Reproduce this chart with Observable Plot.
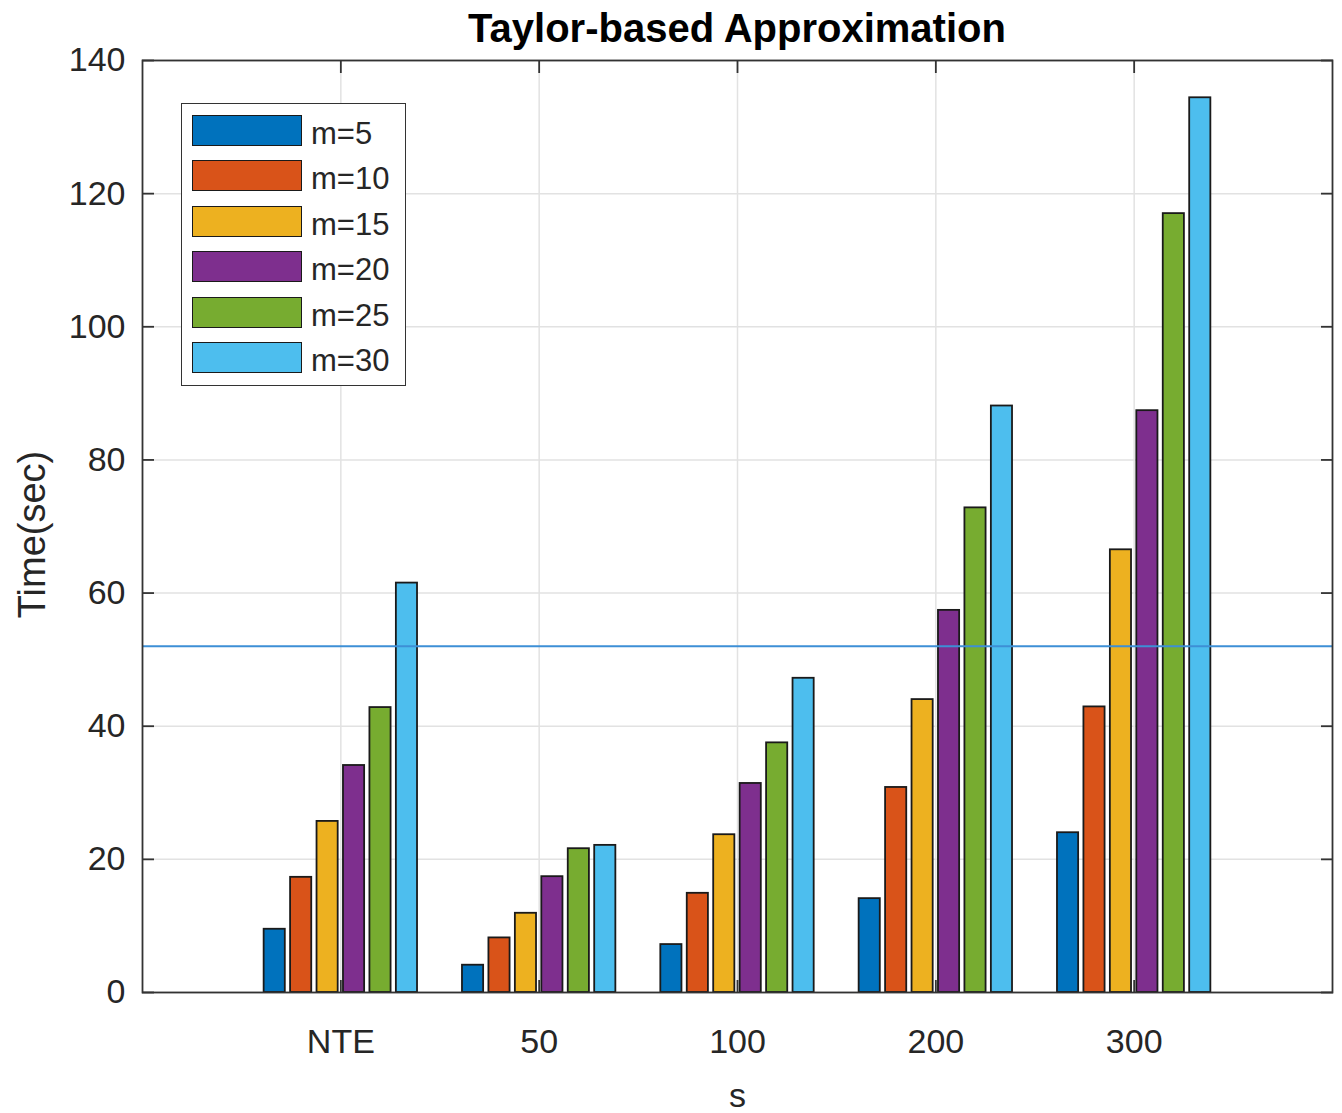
<!DOCTYPE html>
<html>
<head>
<meta charset="utf-8">
<script src="https://cdn.jsdelivr.net/npm/d3@7"></script>
<script src="https://cdn.jsdelivr.net/npm/@observablehq/plot@0.6"></script>
<style>
  body { margin: 0; background: #fff; font-family: "Liberation Sans", Arial, Helvetica, sans-serif; }
  #wrap { position: relative; width: 1342px; height: 1113px; background: #fff; }
  #title { position: absolute; left: 142px; width: 1190px; top: 8px; text-align: center; font-weight: bold; font-size: 40px; line-height: 40px; color: #000; white-space: nowrap; }
  #chart { position: absolute; left: 0; top: 0; }
  #legend { position: absolute; left: 181px; top: 103px; width: 223px; height: 281px; border: 1.5px solid #333; background: #fff; }
  .item { position: absolute; left: 10px; height: 32px; width: 210px; }
  .sw { position: absolute; left: 0; top: 0; width: 108px; height: 29px; border: 1.5px solid #1a1a1a; }
  .lab { position: absolute; left: 119px; top: 3px; font-size: 31px; line-height: 32px; color: #262626; white-space: nowrap; }
</style>
</head>
<body>
<div id="wrap">
  <div id="chart"></div>
  <div id="title">Taylor-based Approximation</div>
  <div id="legend"></div>
</div>
<script>
// ---- data ----
const categories = ["NTE", "50", "100", "200", "300"];
const series = ["m=5", "m=10", "m=15", "m=20", "m=25", "m=30"];
const m5  = [9.5, 4.1, 7.2, 14.1, 24.0];
const m10 = [17.3, 8.2, 14.9, 30.8, 42.9];
const m15 = [25.7, 11.9, 23.7, 44.0, 66.5];
const m20 = [34.1, 17.4, 31.4, 57.4, 87.4];
const m25 = [42.8, 21.6, 37.5, 72.8, 117.0];
const m30 = [61.5, 22.1, 47.2, 88.1, 134.4];
const referenceLine = [52];
const yTicks = [0, 20, 40, 60, 80, 100, 120, 140];
const colors = ["#0072BD", "#D95319", "#EDB120", "#7E2F8E", "#77AC30", "#4DBEEE"];

// ---- table for grouped bars ----
const valuesBySeries = [m5, m10, m15, m20, m25, m30];
const groupWidth = 0.8;
const slot = groupWidth / series.length;
const barW = slot * 0.8;
const table = [];
categories.forEach((c, i) => {
  series.forEach((s, j) => {
    const center = (i + 1) + (j - (series.length - 1) / 2) * slot;
    table.push({category: c, series: s, value: valuesBySeries[j][i], x1: center - barW / 2, x2: center + barW / 2});
  });
});
const xTicks = categories.map((_, i) => i + 1);

const axisColor = "#333";
const plot = Plot.plot({
  width: 1342,
  height: 1113,
  marginTop: 60,
  marginBottom: 121,
  marginLeft: 142,
  marginRight: 10,
  style: {fontFamily: '"Liberation Sans", Arial, Helvetica, sans-serif', fontSize: "34px", color: "#262626", background: "transparent"},
  x: {domain: [0, categories.length + 1]},
  y: {domain: [0, 140]},
  color: {domain: series, range: colors},
  marks: [
    Plot.gridY(yTicks, {stroke: "#e2e2e2", strokeOpacity: 1, strokeWidth: 1.5}),
    Plot.gridX(xTicks, {stroke: "#e2e2e2", strokeOpacity: 1, strokeWidth: 1.5}),
    Plot.axisX(xTicks, {anchor: "bottom", tickSize: 12, dy: -12, fill: "none", stroke: axisColor, strokeWidth: 1.8}),
    Plot.rectY(table, {x1: "x1", x2: "x2", y: "value", fill: "series", stroke: "#1a1a1a", strokeWidth: 1.8}),
    Plot.ruleY(referenceLine, {stroke: "#3d8fd6", strokeWidth: 2}),
    Plot.axisX(xTicks, {anchor: "top", tickSize: 12, dy: 12, fill: "none", stroke: axisColor, strokeWidth: 1.8}),
    Plot.axisY(yTicks, {anchor: "left", tickSize: 12, dx: 12, fill: "none", stroke: axisColor, strokeWidth: 1.8}),
    Plot.axisY(yTicks, {anchor: "right", tickSize: 12, dx: -12, fill: "none", stroke: axisColor, strokeWidth: 1.8}),
    Plot.axisY(yTicks, {anchor: "left", tickSize: 0, tickPadding: 17, label: null, fontSize: 34, fill: "#262626"}),
    Plot.axisX(xTicks, {anchor: "bottom", tickSize: 0, tickPadding: 36, label: null, fontSize: 34, fill: "#262626", tickFormat: d => categories[d - 1]}),
    Plot.frame({stroke: axisColor, strokeWidth: 1.8}),
    Plot.text(["Time(sec)"], {frameAnchor: "left", textAnchor: "middle", lineAnchor: "middle", dx: -110, dy: 8, rotate: -90, fontSize: 38, fill: "#262626"}),
    Plot.text(["s"], {frameAnchor: "bottom", textAnchor: "middle", lineAnchor: "middle", dy: 104, fontSize: 34, fill: "#262626"})
  ]
});
document.getElementById("chart").appendChild(plot);

// ---- legend ----
const legend = document.getElementById("legend");
series.forEach((s, j) => {
  const item = document.createElement("div");
  item.className = "item";
  item.style.top = (11 + j * 45.4) + "px";
  const sw = document.createElement("div");
  sw.className = "sw";
  sw.style.background = colors[j];
  const lab = document.createElement("div");
  lab.className = "lab";
  lab.textContent = s;
  item.appendChild(sw);
  item.appendChild(lab);
  legend.appendChild(item);
});
</script>
</body>
</html>
